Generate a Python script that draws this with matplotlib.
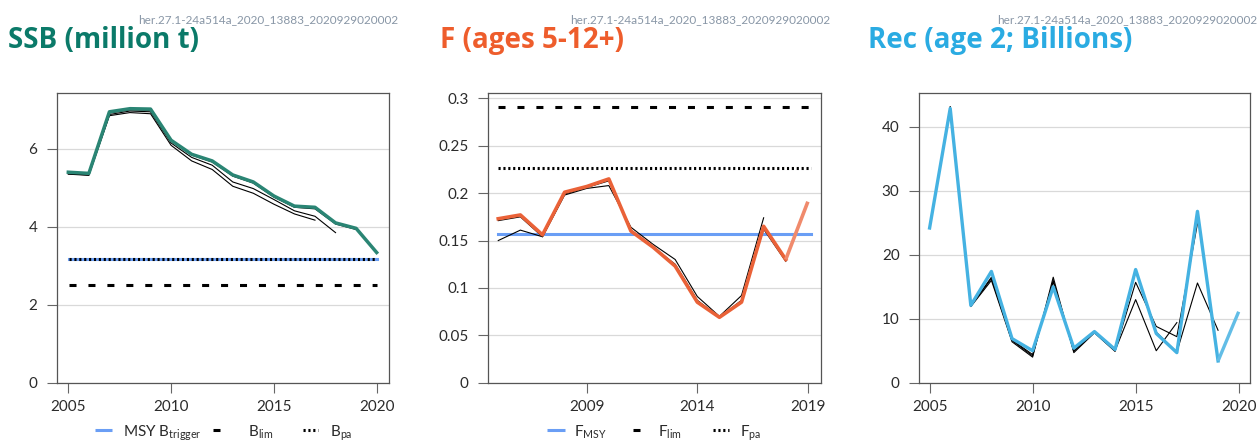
import matplotlib
matplotlib.use("Agg")
import matplotlib.pyplot as plt
from matplotlib.lines import Line2D

# ---------------- data ----------------
years_ssb = list(range(2005, 2021))
ssb = [5.40, 5.37, 6.95, 7.03, 7.02, 6.22, 5.86, 5.69, 5.33, 5.15, 4.79, 4.53, 4.50, 4.10, 3.96, 3.34]
ssb_retro_2019 = [5.38, 5.35, 6.92, 7.00, 6.99, 6.20, 5.84, 5.66, 5.30, 5.12, 4.76, 4.50, 4.46, 4.07, 3.93]
ssb_retro_2018 = [5.36, 5.33, 6.88, 6.97, 6.95, 6.15, 5.78, 5.58, 5.15, 4.98, 4.70, 4.41, 4.27, 3.85]
ssb_retro_2017 = [5.35, 5.32, 6.85, 6.93, 6.90, 6.09, 5.69, 5.47, 5.04, 4.86, 4.58, 4.33, 4.17]
msy_btrigger = 3.184
b_lim = 2.5
b_pa = 3.184

years_f = list(range(2005, 2020))
f_values = [0.173, 0.177, 0.156, 0.201, 0.207, 0.215, 0.160, 0.143, 0.123, 0.085, 0.069, 0.085, 0.165, 0.130, 0.191]
f_retro_2018 = [0.171, 0.175, 0.154, 0.199, 0.206, 0.213, 0.161, 0.143, 0.125, 0.087, 0.069, 0.087, 0.162, 0.128]
f_retro_2017 = [0.150, 0.161, 0.154, 0.198, 0.205, 0.208, 0.164, 0.146, 0.130, 0.091, 0.070, 0.092, 0.174]
f_msy = 0.157
f_lim = 0.291
f_pa = 0.227

years_rec = list(range(2005, 2021))
rec = [24.2, 42.9, 12.1, 17.4, 6.9, 5.0, 15.0, 5.4, 8.0, 5.2, 17.7, 7.7, 4.7, 26.8, 3.4, 11.1]
rec_retro_2019 = [24.2, 43.2, 11.9, 16.0, 6.4, 4.0, 16.5, 4.7, 7.8, 4.9, 17.5, 7.9, 4.8, 15.6, 8.2]
rec_retro_2018 = [24.2, 43.0, 12.0, 16.3, 6.6, 4.2, 16.0, 4.9, 7.9, 5.0, 15.7, 8.8, 7.2, 24.9]
rec_retro_2017 = [24.2, 43.1, 12.0, 16.5, 6.7, 4.4, 15.8, 5.0, 7.9, 5.0, 13.0, 5.0, 9.4]

titles = ["SSB (million t)", "F (ages 5-12+)", "Rec (age 2; Billions)"]
subtitle = "her.27.1-24a514a_2020_13883_2020929020002"
ssb_yticks = [0, 2, 4, 6]
f_yticks = [0, 0.05, 0.1, 0.15, 0.2, 0.25, 0.3]
f_yticklabels = ["0", "0.05", "0.1", "0.15", "0.2", "0.25", "0.3"]
rec_yticks = [0, 10, 20, 30, 40]
ssb_xticks = [2005, 2010, 2015, 2020]
f_xticks = [2009, 2014, 2019]
rec_xticks = [2005, 2010, 2015, 2020]

# ---------------- style ----------------
FONT = "Lato"
plt.rcParams["font.family"] = [FONT, "DejaVu Sans"]
W, H = 1259, 442
C_SSB = "#0b7a69"
C_SSB_LINE = "#2a8574"
C_F = "#ee5d2c"
C_F_LINE = "#ea6238"
C_F_LAST = "#f08a6c"
C_REC = "#2aabe2"
C_REC_LINE = "#45b2e2"
C_REC_LAST = "#62bde6"
C_REF = "#6a9ef5"
C_TICK = "#2b2b2b"
C_SUB = "#8896a6"

fig = plt.figure(figsize=(W / 100, H / 100), dpi=100)


def fx(x):
    return x / W


def fy(y):
    return (H - y) / H


def make_axes(left, right, top=92.7, bottom=382.7):
    return fig.add_axes([fx(left), fy(bottom), fx(right - left), (bottom - top) / H])


def style_axes(ax):
    for s in ax.spines.values():
        s.set_color("#555555")
        s.set_linewidth(0.9)
    ax.tick_params(axis="both", length=7.2, width=0.8, color="#666666",
                   labelcolor=C_TICK, labelsize=11)
    ax.tick_params(axis="y", pad=7)
    ax.tick_params(axis="x", pad=5)
    ax.yaxis.grid(True, color="#d9d9d9", linewidth=0.9)
    ax.set_axisbelow(True)


lw_ref = 2.2
dash_style = (0, (2.3, 3.9))
dot_style = (0, (0.7, 0.9))

# ---------- SSB ----------
ax1 = make_axes(57, 389)
style_axes(ax1)
for r in (ssb_retro_2017, ssb_retro_2018, ssb_retro_2019):
    ax1.plot(years_ssb[:len(r)], r, color="black", lw=0.8, zorder=3)
ax1.plot(years_ssb, ssb, color=C_SSB_LINE, lw=2.5, zorder=4, solid_joinstyle="round")
ax1.axhline(msy_btrigger, xmin=0.035, xmax=0.965, color=C_REF, lw=lw_ref, zorder=2)
ax1.axhline(b_pa, xmin=0.035, xmax=0.965, color="black", lw=lw_ref, ls=dot_style,
            dash_capstyle="butt", zorder=2.5)
ax1.axhline(b_lim, xmin=0.035, xmax=0.965, color="black", lw=lw_ref, ls=dash_style,
            dash_capstyle="butt", zorder=2.5)
ax1.set_xlim(2004.45, 2020.6)
ax1.set_ylim(0, 7.44)
ax1.set_yticks(ssb_yticks)
ax1.set_xticks(ssb_xticks)

# ---------- F ----------
ax2 = make_axes(488.3, 820.7)
style_axes(ax2)
for r in (f_retro_2017, f_retro_2018):
    ax2.plot(years_f[:len(r)], r, color="black", lw=0.8, zorder=3)
ax2.axhline(f_msy, xmin=0.03, xmax=0.97, color=C_REF, lw=lw_ref, zorder=2.8)
ax2.axhline(f_pa, xmin=0.03, xmax=0.97, color="black", lw=lw_ref, ls=dot_style,
            dash_capstyle="butt", zorder=2.5)
ax2.axhline(f_lim, xmin=0.03, xmax=0.97, color="black", lw=lw_ref, ls=dash_style,
            dash_capstyle="butt", zorder=2.5)
ax2.plot(years_f[:-1], f_values[:-1], color=C_F_LINE, lw=2.6, zorder=4, solid_joinstyle="round")
ax2.plot(years_f[-2:], f_values[-2:], color=C_F_LAST, lw=2.6, zorder=4, solid_capstyle="butt")
ax2.set_xlim(2004.55, 2019.58)
ax2.set_ylim(0, 0.306)
ax2.set_yticks(f_yticks)
ax2.set_yticklabels(f_yticklabels)
ax2.set_xticks(f_xticks)

# ---------- Rec ----------
ax3 = make_axes(919.3, 1250)
style_axes(ax3)
for r in (rec_retro_2017, rec_retro_2018, rec_retro_2019):
    ax3.plot(years_rec[:len(r)], r, color="black", lw=0.8, zorder=3)
ax3.plot(years_rec[:-1], rec[:-1], color=C_REC_LINE, lw=2.4, zorder=4, solid_joinstyle="round")
ax3.plot(years_rec[-2:], rec[-2:], color=C_REC_LAST, lw=2.4, zorder=4, solid_capstyle="butt")
ax3.set_xlim(2004.5, 2020.55)
ax3.set_ylim(0, 45.36)
ax3.set_yticks(rec_yticks)
ax3.set_xticks(rec_xticks)

# ---------- titles ----------
title_colors = [C_SSB, C_F, C_REC]
title_x = [8, 440, 868]
sub_right = [398, 830, 1257]
for t, c, x, sr in zip(titles, title_colors, title_x, sub_right):
    fig.text(fx(x), fy(48), t, color=c, fontsize=20, fontweight="bold",
             family=["Open Sans", "DejaVu Sans"], ha="left", va="baseline")
    fig.text(fx(sr), fy(23), subtitle, color=C_SUB, fontsize=8.5, ha="right", va="baseline")

# ---------- legends (manual, R style) ----------
def legend_item(kind, x0, x1, y, label, tx):
    if kind == "line":
        fig.add_artist(Line2D([fx(x0), fx(x1)], [fy(y), fy(y)], color=C_REF, lw=lw_ref,
                              solid_capstyle="butt"))
    elif kind == "dash":
        fig.add_artist(Line2D([fx(x0), fx(x1)], [fy(y), fy(y)], color="black", lw=lw_ref,
                              solid_capstyle="butt"))
    else:
        fig.add_artist(Line2D([fx(x0), fx(x1)], [fy(y), fy(y)], color="black", lw=lw_ref,
                              ls=dot_style, dash_capstyle="butt"))
    fig.text(fx(tx), fy(436), label, fontsize=11, color=C_TICK, ha="left", va="baseline")


legend_item("line", 95, 112, 430, r"MSY B$_\mathregular{trigger}$", 123)
legend_item("dash", 213, 220, 430, r"B$_\mathregular{lim}$", 248)
legend_item("dot", 303, 318, 430, r"B$_\mathregular{pa}$", 330)
legend_item("line", 547, 565, 430, r"F$_\mathregular{MSY}$", 574)
legend_item("dash", 633, 640, 430, r"F$_\mathregular{lim}$", 658)
legend_item("dot", 713, 729, 430, r"F$_\mathregular{pa}$", 740)

fig.savefig("out.png", dpi=100)
